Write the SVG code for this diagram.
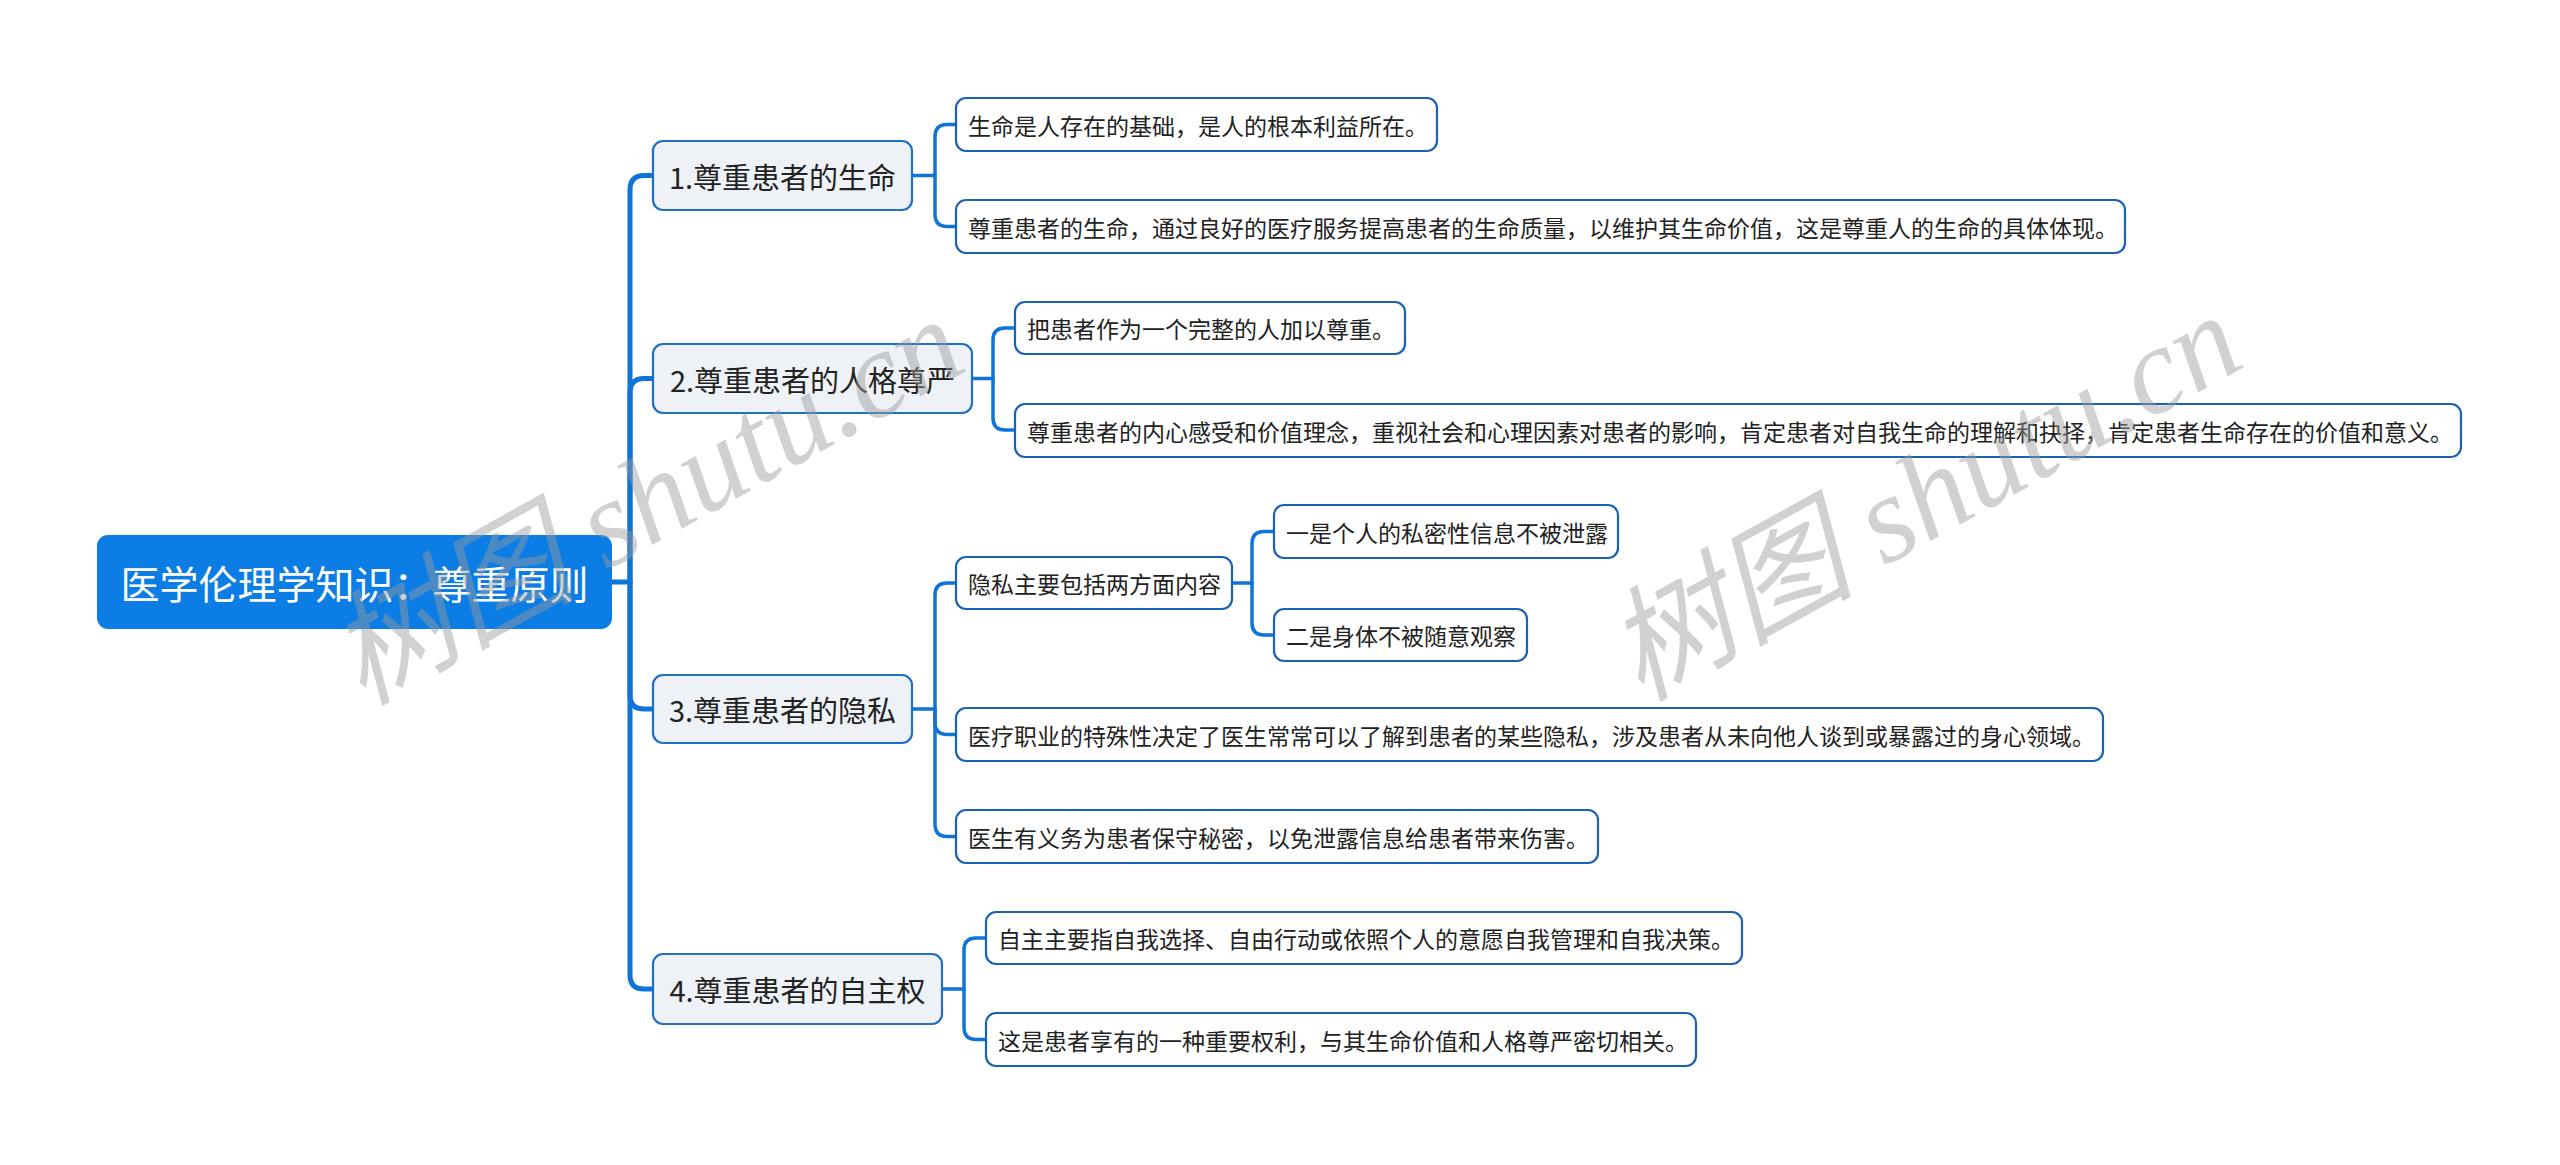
<svg xmlns="http://www.w3.org/2000/svg" width="2560" height="1165" viewBox="0 0 2560 1165">
<style>
.t{font-family:"Noto Sans CJK SC","Noto Sans",sans-serif;fill:#222;}
.root rect{fill:#0B7DE4;stroke:#0B7DE4;stroke-width:2;}
.root text{fill:#fff;font-size:39px;}
.br rect{fill:#EEF2F7;stroke:#1F6FC9;stroke-width:2.2;}
.br text{font-size:29px;}
.lf rect{fill:#fff;stroke:#1A62B8;stroke-width:2.2;}
.lf text{font-size:23px;}
.c1{fill:none;stroke:#0F74D8;stroke-width:5;stroke-linecap:round;}
.c2{fill:none;stroke:#0F74D8;stroke-width:3.5;stroke-linecap:round;}
.wm{font-family:"Liberation Serif","Noto Sans CJK SC",serif;font-style:italic;font-size:124px;fill:#9a9a9a;opacity:0.45;}
</style>
<rect width="2560" height="1165" fill="#fff"/>
<g id="connectors">
<path class="c1" d="M611,582 H630"/>
<path class="c1" d="M630,582 V190 Q630,175.5 644,175.5 H653"/>
<path class="c1" d="M630,582 V393 Q630,378.5 644,378.5 H653"/>
<path class="c1" d="M630,582 V695 Q630,709 644,709 H653"/>
<path class="c1" d="M630,582 V975 Q630,989 644,989 H653"/>
<path class="c2" d="M912,175.5 H935 V137 Q935,124.5 947,124.5 H956"/>
<path class="c2" d="M935,175.5 V214 Q935,226.5 947,226.5 H956"/>
<path class="c2" d="M972,378.5 H993 V340 Q993,328 1005,328 H1015"/>
<path class="c2" d="M993,378.5 V418 Q993,430 1005,430 H1015"/>
<path class="c2" d="M912,709 H935 V595 Q935,583 947,583 H956"/>
<path class="c2" d="M935,709 V722 Q935,734.5 947,734.5 H956"/>
<path class="c2" d="M935,709 V824 Q935,836.5 947,836.5 H956"/>
<path class="c2" d="M1232,583 H1252 V544 Q1252,531.5 1264,531.5 H1274"/>
<path class="c2" d="M1252,583 V623 Q1252,635 1264,635 H1274"/>
<path class="c2" d="M942,989 H964 V950 Q964,938 976,938 H986"/>
<path class="c2" d="M964,989 V1027 Q964,1039.5 976,1039.5 H986"/>
</g>
<g id="root" class="root">
<rect x="98" y="536" width="513" height="92" rx="10"/>
<text class="t" x="354.5" y="582" text-anchor="middle" dominant-baseline="central" style="fill:#fff">医学伦理学知识：尊重原则</text>
</g>
<g id="b1" class="br"><rect x="653" y="141" width="259" height="69" rx="10"/><text class="t" x="782.5" y="175.5" text-anchor="middle" dominant-baseline="central">1.尊重患者的生命</text></g>
<g id="b2" class="br"><rect x="653" y="344" width="319" height="69" rx="10"/><text class="t" x="812.5" y="378.5" text-anchor="middle" dominant-baseline="central">2.尊重患者的人格尊严</text></g>
<g id="b3" class="br"><rect x="653" y="675" width="259" height="68" rx="10"/><text class="t" x="782.5" y="709" text-anchor="middle" dominant-baseline="central">3.尊重患者的隐私</text></g>
<g id="b4" class="br"><rect x="653" y="954" width="289" height="70" rx="10"/><text class="t" x="797.5" y="989" text-anchor="middle" dominant-baseline="central">4.尊重患者的自主权</text></g>
<g id="l1a" class="lf"><rect x="956" y="98" width="481" height="53" rx="10"/><text class="t" x="968" y="124.5" dominant-baseline="central">生命是人存在的基础，是人的根本利益所在。</text></g>
<g id="l1b" class="lf"><rect x="956" y="200" width="1169" height="53" rx="10"/><text class="t" x="968" y="226.5" dominant-baseline="central">尊重患者的生命，通过良好的医疗服务提高患者的生命质量，以维护其生命价值，这是尊重人的生命的具体体现。</text></g>
<g id="l2a" class="lf"><rect x="1015" y="302" width="390" height="52" rx="10"/><text class="t" x="1027" y="328" dominant-baseline="central">把患者作为一个完整的人加以尊重。</text></g>
<g id="l2b" class="lf"><rect x="1015" y="404" width="1446" height="53" rx="10"/><text class="t" x="1027" y="430.5" dominant-baseline="central">尊重患者的内心感受和价值理念，重视社会和心理因素对患者的影响，肯定患者对自我生命的理解和抉择，肯定患者生命存在的价值和意义。</text></g>
<g id="l3a" class="lf"><rect x="956" y="557" width="276" height="52" rx="10"/><text class="t" x="968" y="583" dominant-baseline="central">隐私主要包括两方面内容</text></g>
<g id="l3a1" class="lf"><rect x="1274" y="505" width="344" height="53" rx="10"/><text class="t" x="1286" y="531.5" dominant-baseline="central">一是个人的私密性信息不被泄露</text></g>
<g id="l3a2" class="lf"><rect x="1274" y="609" width="253" height="52" rx="10"/><text class="t" x="1286" y="635" dominant-baseline="central">二是身体不被随意观察</text></g>
<g id="l3b" class="lf"><rect x="956" y="708" width="1147" height="53" rx="10"/><text class="t" x="968" y="734.5" dominant-baseline="central">医疗职业的特殊性决定了医生常常可以了解到患者的某些隐私，涉及患者从未向他人谈到或暴露过的身心领域。</text></g>
<g id="l3c" class="lf"><rect x="956" y="810" width="642" height="53" rx="10"/><text class="t" x="968" y="836.5" dominant-baseline="central">医生有义务为患者保守秘密，以免泄露信息给患者带来伤害。</text></g>
<g id="l4a" class="lf"><rect x="986" y="912" width="756" height="52" rx="10"/><text class="t" x="998" y="938" dominant-baseline="central">自主主要指自我选择、自由行动或依照个人的意愿自我管理和自我决策。</text></g>
<g id="l4b" class="lf"><rect x="986" y="1013" width="710" height="53" rx="10"/><text class="t" x="998" y="1039.5" dominant-baseline="central">这是患者享有的一种重要权利，与其生命价值和人格尊严密切相关。</text></g>
<g id="watermarks">
<text class="wm" x="362" y="706" transform="rotate(-29 362 706)">树图 shutu.cn</text>
<text class="wm" x="1640" y="702" transform="rotate(-29 1640 702)">树图 shutu.cn</text>
</g>
</svg>
